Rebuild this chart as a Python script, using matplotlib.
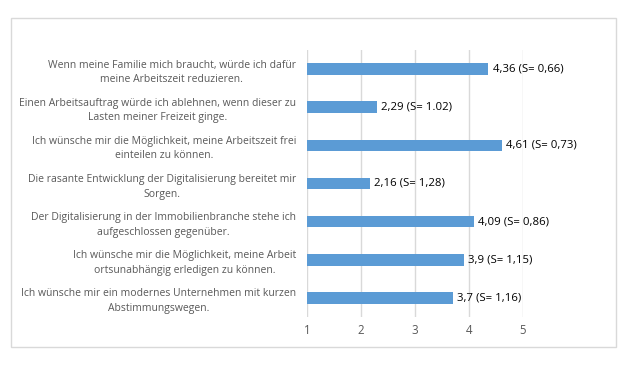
import matplotlib
matplotlib.use('Agg')
import matplotlib.pyplot as plt
from matplotlib.patches import Rectangle

# Aussagen (von oben nach unten) und Mittelwerte
aussagen = [
    "Wenn meine Familie mich braucht, würde ich dafür\nmeine Arbeitszeit reduzieren.",
    "Einen Arbeitsauftrag würde ich ablehnen, wenn dieser zu\nLasten meiner Freizeit ginge.",
    "Ich wünsche mir die Möglichkeit, meine Arbeitszeit frei\neinteilen zu können.",
    "Die rasante Entwicklung der Digitalisierung bereitet mir\nSorgen.",
    "Der Digitalisierung in der Immobilienbranche stehe ich\naufgeschlossen gegenüber.",
    "Ich wünsche mir die Möglichkeit, meine Arbeit\nortsunabhängig erledigen zu können.",
    "Ich wünsche mir ein modernes Unternehmen mit kurzen\nAbstimmungswegen.",
]
mittelwerte = [4.36, 2.29, 4.61, 2.16, 4.09, 3.9, 3.7]
werte_labels = ["4,36 (S= 0,66)", "2,29 (S= 1.02)", "4,61 (S= 0,73)", "2,16 (S= 1,28)",
                "4,09 (S= 0,86)", "3,9 (S= 1,15)", "3,7 (S= 1,16)"]
x_ticks = [1, 2, 3, 4, 5]

BAR = '#5B9BD5'
TXT = '#595959'
GRID = '#D9D9D9'

plt.rcParams['font.family'] = ['Open Sans', 'DejaVu Sans']

fig = plt.figure(figsize=(6.33, 3.67), dpi=100)
fig.patches.append(Rectangle((11 / 633, 1 - 347 / 367), 605 / 633, 329 / 367,
                             transform=fig.transFigure, fill=False,
                             edgecolor=GRID, linewidth=1))

ax = fig.add_axes([307 / 633, 1 - 317 / 367, 216 / 633, 267 / 367])
y = list(range(len(aussagen)))
ax.barh(y, [m - 1 for m in mittelwerte], left=1, height=0.3, color=BAR, zorder=3)
ax.set_ylim(len(aussagen) - 0.5, -0.5)
ax.set_xlim(1, 5)
ax.set_xticks(x_ticks)
ax.set_xticklabels([str(t) for t in x_ticks])
ax.xaxis.grid(True, color=GRID, linewidth=1, zorder=0)
for s in ax.spines.values():
    s.set_visible(False)
ax.tick_params(axis='x', length=0, pad=5, labelcolor=TXT, labelsize=8.3)
ax.tick_params(axis='y', length=0, pad=8)
ax.set_yticks(y)
ax.set_yticklabels(aussagen, fontsize=7.5, color=TXT, multialignment='center',
                   linespacing=1.45)

for yi, m, lab in zip(y, mittelwerte, werte_labels):
    ax.annotate(lab, (m, yi), xytext=(3, 0), textcoords='offset points',
                va='center', ha='left', fontsize=8.2, color='black', clip_on=False)

fig.savefig('out.png', dpi=100)
